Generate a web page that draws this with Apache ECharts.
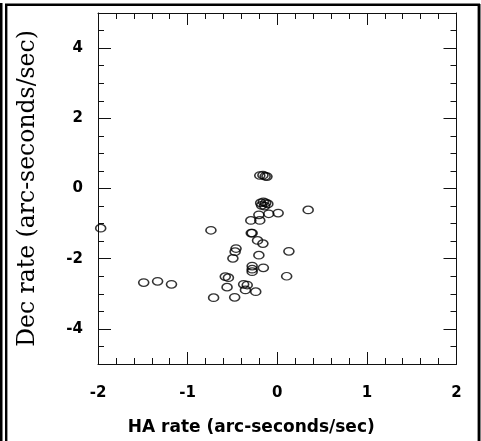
<!DOCTYPE html>
<html>
<head>
<meta charset="utf-8">
<script src="https://cdn.jsdelivr.net/npm/echarts@6/dist/echarts.min.js"></script>
<style>
html,body{margin:0;padding:0;background:#fff;}
#chart{width:481px;height:441px;}
</style>
</head>
<body>
<div id="chart"></div>
<script>
// HA rate (x) and Dec rate (y), arc-seconds/sec
const haRate = [-1.97, -1.49, -1.335, -1.18, -0.74, -0.71, -0.58, -0.545, -0.56, -0.475, -0.46, -0.47, -0.495, -0.375, -0.335, -0.355, -0.24, -0.295, -0.195, -0.29, -0.28, -0.22, -0.16, -0.205, -0.28, -0.28, -0.28, -0.155, 0.105, 0.13, 0.345, 0.01, -0.095, -0.205, -0.185, -0.155, -0.13, -0.175, -0.14, -0.105, -0.195, -0.16, -0.135, -0.115];
const decRate = [-1.13, -2.68, -2.645, -2.73, -1.19, -3.11, -2.51, -2.54, -2.81, -3.10, -1.71, -1.80, -1.99, -2.73, -2.75, -2.89, -2.94, -0.91, -0.91, -1.27, -1.27, -1.48, -1.57, -1.90, -2.21, -2.30, -2.37, -2.26, -2.50, -1.79, -0.61, -0.70, -0.72, -0.75, -0.41, -0.38, -0.41, -0.48, -0.50, -0.44, 0.37, 0.38, 0.35, 0.34];
const xTicks = [-2, -1, 0, 1, 2];
const yTicks = [-4, -2, 0, 2, 4];
const xTitle = 'HA rate (arc-seconds/sec)';
const yTitle = 'Dec rate (arc-seconds/sec)';

const points = haRate.map((x, i) => [x, decRate[i]]);
const ink = '#111';
const labelFont = {fontFamily: 'DejaVu Sans', fontWeight: 'bold', fontSize: 15, color: '#000'};

function xAx(pos, showLabel) {
  return {
    type: 'value', position: pos, min: -2, max: 2, interval: 1,
    axisLine: {show: true, onZero: false, lineStyle: {color: ink, width: 1}},
    axisTick: {show: true, inside: true, length: 12, lineStyle: {color: ink, width: 1}},
    minorTick: {show: true, splitNumber: 5, length: 6, lineStyle: {color: ink, width: 1}},
    splitLine: {show: false}, minorSplitLine: {show: false},
    axisLabel: Object.assign({show: showLabel, margin: 22,
      formatter: v => xTicks.indexOf(v) >= 0 ? String(v) : ''}, labelFont),
    name: showLabel ? xTitle : '', nameLocation: 'middle', nameGap: 55,
    nameTextStyle: {fontFamily: 'DejaVu Sans', fontWeight: 'bold', fontSize: 17, color: '#000', padding: [0, 52, 0, 0]}
  };
}
function yAx(pos, showLabel) {
  return {
    type: 'value', position: pos, min: -5, max: 5, splitNumber: 5,
    axisLine: {show: true, onZero: false, lineStyle: {color: ink, width: 1}},
    axisTick: {show: true, inside: true, length: 13, lineStyle: {color: ink, width: 1}},
    minorTick: {show: true, splitNumber: 4, length: 6, lineStyle: {color: ink, width: 1}},
    splitLine: {show: false}, minorSplitLine: {show: false},
    axisLabel: Object.assign({show: showLabel, margin: 15, showMinLabel: false, showMaxLabel: false,
      formatter: v => yTicks.indexOf(v) >= 0 ? String(v) : ''}, labelFont),
    name: showLabel ? yTitle : '', nameLocation: 'middle', nameGap: 58,
    nameTextStyle: {fontFamily: 'DejaVu Serif', fontSize: 23.5, color: '#000'}
  };
}

const chart = echarts.init(document.getElementById('chart'), null, {renderer: 'canvas'});
chart.setOption({
  animation: false,
  backgroundColor: '#fff',
  grid: {left: 98, right: 24.5, top: 13, bottom: 74.5, containLabel: false},
  xAxis: [xAx('bottom', true), xAx('top', false)],
  yAxis: [yAx('left', true), yAx('right', false)],
  series: [{
    type: 'scatter', xAxisIndex: 0, yAxisIndex: 0,
    data: points,
    symbol: 'path://M0,4A5,4 0 1,1 10,4A5,4 0 1,1 0,4Z',
    symbolSize: [10, 7.5],
    itemStyle: {color: 'rgba(0,0,0,0)', borderColor: '#000', borderWidth: 1.4},
    silent: true, clip: false
  }],
  graphic: [
    {type: 'line', shape: {x1: 1.2, y1: 3, x2: 1.2, y2: 441}, style: {stroke: '#000', lineWidth: 2.6}},
    {type: 'polyline', shape: {points: [[6.2, 441], [6.2, 4.8], [478.8, 4.8], [478.8, 441]]}, style: {stroke: '#000', lineWidth: 2.4, fill: null}},
    {type: 'line', shape: {x1: 479.5, y1: 4, x2: 479.5, y2: 441}, style: {stroke: '#000', lineWidth: 2}}
  ]
});
</script>
</body>
</html>
